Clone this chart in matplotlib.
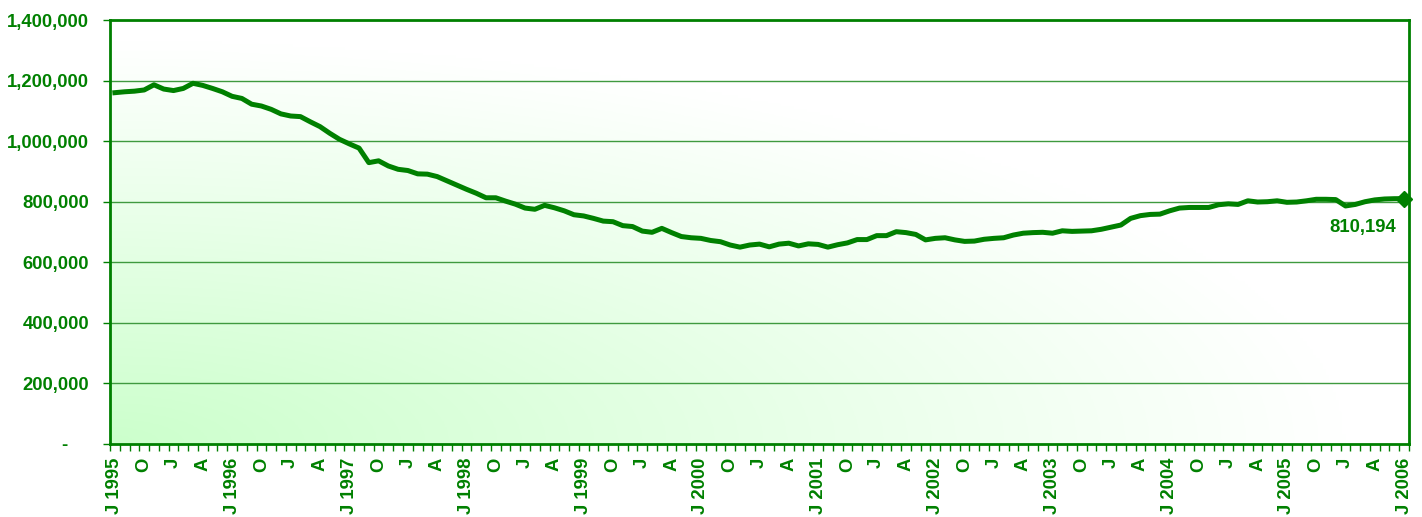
import matplotlib
matplotlib.use("Agg")
import matplotlib.pyplot as plt
import numpy as np

# monthly values (first label "J 1995" ... last "J 2006")
values = [
    1160000, 1163000, 1165000, 1169000, 1186000, 1172000, 1167000, 1174000, 1191000, 1184000,
    1174000, 1163000, 1148000, 1141000, 1122000, 1116000, 1105000, 1090000, 1083000, 1081000,
    1064000, 1048000, 1026000, 1006000, 991000, 977000,
    929000, 935000, 918000, 907000, 903000, 892000, 891000, 883000, 869000, 855000,
    841000, 828000, 813000, 813000, 802000, 792000, 779000, 775000, 788000, 780000,
    770000, 757000, 753000, 745000, 736000, 734000,
    721000, 718000, 703000, 699000, 712000, 698000, 685000, 681000, 679000, 672000,
    668000, 657000, 650000, 657000, 660000, 651000, 660000, 663000, 654000, 661000,
    659000, 650000, 658000, 664000, 675000, 675000,
    688000, 688000, 701000, 698000, 692000, 674000, 679000, 681000, 674000, 669000,
    670000, 676000, 679000, 681000, 690000, 696000, 698000, 699000, 696000, 704000,
    702000, 703000, 704000, 709000, 716000, 723000,
    745000, 754000, 758000, 759000, 770000, 779000, 781000, 781000, 781000, 790000,
    793000, 791000, 803000, 799000, 800000, 803000, 798000, 799000, 803000, 808000,
    808000, 807000, 786000, 791000, 800000, 806000, 809000, 810000, 810194,
]

years = list(range(1995, 2007))
tick_labels = []
for y in years:
    tick_labels.append("J " + str(y))
    if y != years[-1]:
        tick_labels += ["O", "J", "A"]

y_ticks = [0, 200000, 400000, 600000, 800000, 1000000, 1200000, 1400000]

green = "#008000"
grid_green = "#3f9a3f"

plt.rcParams['font.family'] = ['Liberation Sans', 'DejaVu Sans']
plt.rcParams['font.weight'] = 'bold'

fig = plt.figure(figsize=(14.22, 5.17), dpi=100)
ax = fig.add_axes([110 / 1422, 73 / 517, 1299 / 1422, 424 / 517])

n = len(values)
x = np.arange(n)

# background gradient: pale green in the bottom-left corner fading to white
gx, gy = np.meshgrid(np.linspace(0, 1, 400), np.linspace(1, 0, 150))
r = np.sqrt(gx ** 2 + gy ** 2)
s = np.clip(1 - r / 0.95, 0, 1)
img = np.ones((150, 400, 3))
img[..., 0] = 1 - 0.2 * s
img[..., 2] = 1 - 0.2 * s
ax.imshow(img, extent=[0, 1, 0, 1], transform=ax.transAxes, aspect='auto', zorder=0)

ax.set_xlim(-0.5, n - 0.5)
ax.set_ylim(0, 1400000)

for yt in y_ticks[1:-1]:
    ax.axhline(yt, color=grid_green, lw=1, zorder=1)

ax.plot(x, values, color=green, lw=3.6, zorder=3, solid_joinstyle='round')
ax.plot(x[-1], values[-1], marker='D', color=green, markersize=8, zorder=4, clip_on=False)
ax.annotate(f"{values[-1]:,}", (x[-1], values[-1]), xytext=(-8, -29),
            textcoords='offset pixels', ha='right', va='center',
            fontsize=13.3, fontweight='bold', color=green)

ax.set_yticks(y_ticks)
ax.set_yticklabels(["-    "] + [f"{v:,}" for v in y_ticks[1:]])
ax.set_xticks(np.arange(0, n, 3))
ax.set_xticklabels(tick_labels, rotation=90, va='top', ha='center')
ax.set_xticks(np.arange(-0.5, n, 1), minor=True)

ax.tick_params(axis='y', colors=green, labelsize=13.3, length=5, width=1, pad=10, direction='out')
ax.tick_params(axis='x', which='major', colors=green, labelsize=13.3, length=0, pad=10)
ax.tick_params(axis='x', which='minor', colors=green, length=5, width=1, direction='out')

for sp in ax.spines.values():
    sp.set_color(green)
    sp.set_linewidth(2)

fig.savefig("out.png", dpi=100)
